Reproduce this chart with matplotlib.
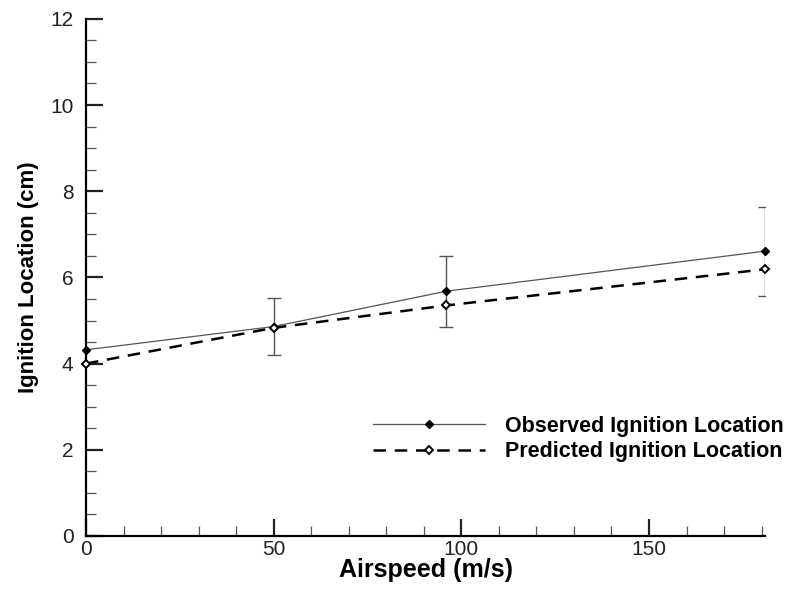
import numpy as np
import matplotlib.pyplot as plt
from matplotlib.ticker import MultipleLocator

plt.rcParams['font.family'] = ['Liberation Sans', 'DejaVu Sans']

# airspeed (m/s)
airspeed = [0, 50, 96, 181]
observed = [4.32, 4.86, 5.68, 6.61]
obs_err = [0.0, 0.66, 0.82, 1.03]
predicted = [4.0, 4.83, 5.35, 6.19]

fig = plt.figure(figsize=(7.89, 5.89), dpi=100)
ax = fig.add_axes([0.109, 0.09, 0.861, 0.878])

# error bars (observed)
err_x = airspeed[1:]
err_y = observed[1:]
err_e = obs_err[1:]
ax.errorbar(err_x, err_y, yerr=err_e, fmt='none', ecolor='#555555',
            elinewidth=1.0, capsize=5, capthick=1.0, zorder=2)

ax.plot(airspeed, observed, color='#555555', linewidth=0.9, marker='D',
        markersize=4.5, markerfacecolor='black', markeredgecolor='black',
        label='Observed Ignition Location', zorder=3, clip_on=False)
ax.plot(airspeed, predicted, color='black', linewidth=1.8, linestyle=(0, (5, 3.5)),
        marker='D', markersize=4.5, markerfacecolor='white', markeredgecolor='black',
        markeredgewidth=1.4, label='Predicted Ignition Location', zorder=3, clip_on=False)

ax.set_xlim(0, 181)
ax.set_ylim(0, 12)
ax.xaxis.set_major_locator(MultipleLocator(50))
ax.xaxis.set_minor_locator(MultipleLocator(10))
ax.yaxis.set_major_locator(MultipleLocator(2))
ax.yaxis.set_minor_locator(MultipleLocator(0.5))

ax.spines['top'].set_visible(False)
ax.spines['right'].set_visible(False)
ax.spines['left'].set_linewidth(1.6)
ax.spines['bottom'].set_linewidth(1.6)
ax.tick_params(which='major', direction='in', length=12, width=1.6,
               labelsize=15, colors='#222222')
ax.tick_params(axis='x', which='major', pad=3)
ax.tick_params(axis='y', which='major', pad=9)
ax.tick_params(which='minor', direction='in', length=7, width=0.9, colors='#555555')

ax.set_xlabel('Airspeed (m/s)', fontsize=18, fontweight='bold', labelpad=-1)
ax.set_ylabel('Ignition Location (cm)', fontsize=16, fontweight='bold', labelpad=8)

ax.legend(loc='lower right', bbox_to_anchor=(1.055, 0.105), frameon=False,
          handlelength=5.2, handletextpad=0.9, labelspacing=0.2,
          prop={'weight': 'bold', 'size': 15.5})

fig.savefig('out.png', dpi=100)
